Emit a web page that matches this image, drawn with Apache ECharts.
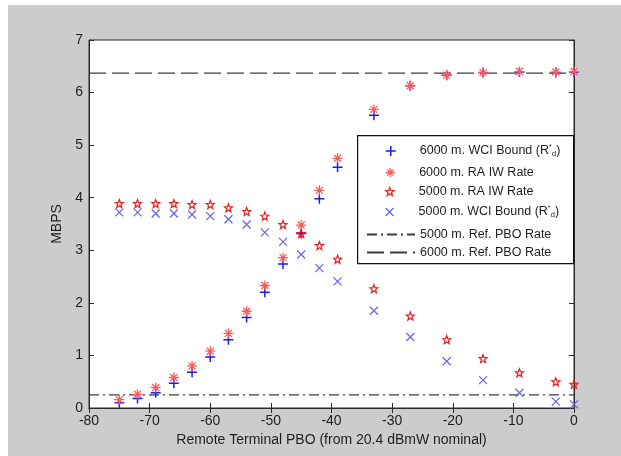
<!DOCTYPE html>
<html>
<head>
<meta charset="utf-8">
<script src="https://cdn.jsdelivr.net/npm/echarts@6/dist/echarts.min.js"></script>
<style>
  html, body { margin: 0; padding: 0; background: #ffffff; }
  #frame { position: absolute; left: 8px; top: 5px; width: 613px; height: 451px; background: #cccccc; }
  #chart { position: absolute; left: 0; top: 0; width: 621px; height: 456px; }
</style>
</head>
<body>
<div id="frame"></div>
<div id="chart"></div>
<script>
// Remote terminal power back-off (dB from 20.4 dBmW nominal)
var pbo = [-75, -72, -69, -66, -63, -60, -57, -54, -51, -48, -45, -42, -39, -33, -27, -21, -15, -9, -3, 0];

// Rates in MBPS
var wci6000 = [0.10, 0.18, 0.29, 0.47, 0.68, 0.97, 1.30, 1.72, 2.20, 2.74, 3.32, 3.98, 4.58, 5.57, 6.13, 6.33, 6.38, 6.39, 6.38, 6.39];
var ra6000  = [0.16, 0.26, 0.39, 0.58, 0.80, 1.08, 1.42, 1.84, 2.33, 2.86, 3.48, 4.14, 4.75, 5.68, 6.13, 6.33, 6.38, 6.40, 6.39, 6.40];
var ra5000  = [3.89, 3.89, 3.89, 3.89, 3.87, 3.87, 3.81, 3.74, 3.65, 3.49, 3.32, 3.09, 2.83, 2.27, 1.75, 1.30, 0.94, 0.67, 0.50, 0.45];
var wci5000 = [3.72, 3.72, 3.70, 3.70, 3.68, 3.65, 3.59, 3.49, 3.34, 3.16, 2.92, 2.66, 2.41, 1.85, 1.35, 0.89, 0.53, 0.29, 0.12, 0.07];

// Reference PBO rates (horizontal lines across the whole PBO range)
var xRange = [-80, 0];
var ref5000 = 0.25;
var ref6000 = 6.37;

var names = [
  '6000 m. WCI Bound',
  '6000 m. RA IW Rate',
  '5000 m. RA IW Rate',
  '5000 m. WCI Bound',
  '5000 m. Ref. PBO Rate',
  '6000 m. Ref. PBO Rate'
];

function pairs(xs, ys) { return xs.map(function (x, i) { return [x, ys[i]]; }); }

var PLUS = 'path://M5,0L5,10M0,5L10,5';
var CROSS = 'path://M0,0L10,10M10,0L0,10';
var ASTER = 'path://M5,0L5,10M0,5L10,5M1.5,1.5L8.5,8.5M8.5,1.5L1.5,8.5';
var STAR = 'path://M5,0L6.23,3.3L9.76,3.45L7,5.65L7.94,9.05L5,7.1L2.06,9.05L3,5.65L0.24,3.45L3.77,3.3Z';

var FONT = 'Liberation Sans, Arial, sans-serif';
var TXT = '#1e1e1e';
var AX = '#2a2a2a';
var NOFILL = 'rgba(0,0,0,0)';

var colors = ['#1c1cf0', '#ff5a5a', '#ee1c1c', '#6464ea'];
var strokeW = [1.5, 1.3, 1.2, 1.2];

function scatter(i, data, symbol, size) {
  return {
    name: names[i], type: 'scatter', data: data,
    symbol: symbol, symbolSize: size,
    itemStyle: { color: NOFILL, borderColor: colors[i], borderWidth: strokeW[i], opacity: 1 },
    emphasis: { disabled: true },
    z: 3
  };
}

function refLine(name, y, dash) {
  return {
    name: name, type: 'line', data: [[xRange[0], y], [xRange[1], y]],
    symbol: 'none', silent: true,
    lineStyle: { color: '#3c3c3c', width: 1.3, type: dash },
    itemStyle: { color: '#3c3c3c' },
    z: 2
  };
}

// Legend rows: [left, top, icon height]
var legendLayout = [
  [385, 144, 10],
  [385, 166, 9],
  [385, 185, 8],
  [385, 205, 8],
  [366, 228, 10],
  [366, 246, 10]
];
var legends = names.map(function (n, i) {
  var isLine = i >= 4;
  return {
    data: [n], left: legendLayout[i][0], top: legendLayout[i][1],
    itemWidth: 48, itemHeight: legendLayout[i][2], padding: 0,
    selectedMode: false,
    itemStyle: isLine
      ? { color: NOFILL, borderColor: NOFILL, borderWidth: 0 }
      : { color: NOFILL, borderColor: colors[i], borderWidth: strokeW[i] },
    textStyle: {
      fontFamily: FONT, fontSize: 12.5, color: TXT,
      rich: {
        sup: { fontFamily: FONT, fontSize: 7, color: TXT, verticalAlign: 'top', padding: [0, 0, 6, 0] },
        sub: { fontFamily: FONT, fontSize: 8, color: TXT, padding: [6, 0, 0, 0] }
      }
    },
    formatter: function (name) {
      if (name.indexOf('WCI') >= 0) return name + ' (R{sup|*}{sub|d})';
      return name;
    }
  };
});

var chart = echarts.init(document.getElementById('chart'), null, { renderer: 'canvas' });
chart.setOption({
  animation: false,
  backgroundColor: 'transparent',
  grid: { left: 89, top: 40, right: 47, bottom: 48, show: true, backgroundColor: '#ffffff', borderColor: AX, borderWidth: 1 },
  legend: legends,
  graphic: [{
    type: 'rect', left: 357, top: 135, z: 1, silent: true,
    shape: { width: 216, height: 128 },
    style: { fill: '#ffffff', stroke: '#111111', lineWidth: 1.2 }
  }],
  xAxis: [{
    type: 'value', min: -80, max: 0, interval: 10,
    name: 'Remote Terminal PBO (from 20.4 dBmW nominal)',
    nameLocation: 'middle', nameGap: 22,
    nameTextStyle: { fontFamily: FONT, fontSize: 14, color: TXT },
    axisLine: { show: true, onZero: false, lineStyle: { color: AX } },
    axisTick: { show: true, inside: true, length: 5, lineStyle: { color: AX } },
    axisLabel: { fontFamily: FONT, fontSize: 14, color: TXT, margin: 6 },
    splitLine: { show: false }
  }, {
    type: 'value', position: 'top', min: -80, max: 0, interval: 10,
    axisLine: { show: true, lineStyle: { color: AX } },
    axisTick: { show: true, inside: true, length: 5, lineStyle: { color: AX } },
    axisLabel: { show: false }, splitLine: { show: false }
  }],
  yAxis: [{
    type: 'value', min: 0, max: 7, interval: 1,
    name: 'MBPS', nameLocation: 'middle', nameGap: 15,
    nameTextStyle: { fontFamily: FONT, fontSize: 14, color: TXT },
    axisLine: { show: true, onZero: false, lineStyle: { color: AX } },
    axisTick: { show: true, inside: true, length: 5, lineStyle: { color: AX } },
    axisLabel: { fontFamily: FONT, fontSize: 14, color: TXT, margin: 6 },
    splitLine: { show: false }
  }, {
    type: 'value', position: 'right', min: 0, max: 7, interval: 1,
    axisLine: { show: true, lineStyle: { color: AX } },
    axisTick: { show: true, inside: true, length: 5, lineStyle: { color: AX } },
    axisLabel: { show: false }, splitLine: { show: false }
  }],
  series: [
    scatter(0, pairs(pbo, wci6000), PLUS, 10),
    scatter(1, pairs(pbo, ra6000), ASTER, 10),
    scatter(2, pairs(pbo, ra5000), STAR, 8),
    scatter(3, pairs(pbo, wci5000), CROSS, 8),
    refLine(names[4], ref5000, [10, 4, 2, 4]),
    refLine(names[5], ref6000, [17, 6])
  ]
});
</script>
</body>
</html>
